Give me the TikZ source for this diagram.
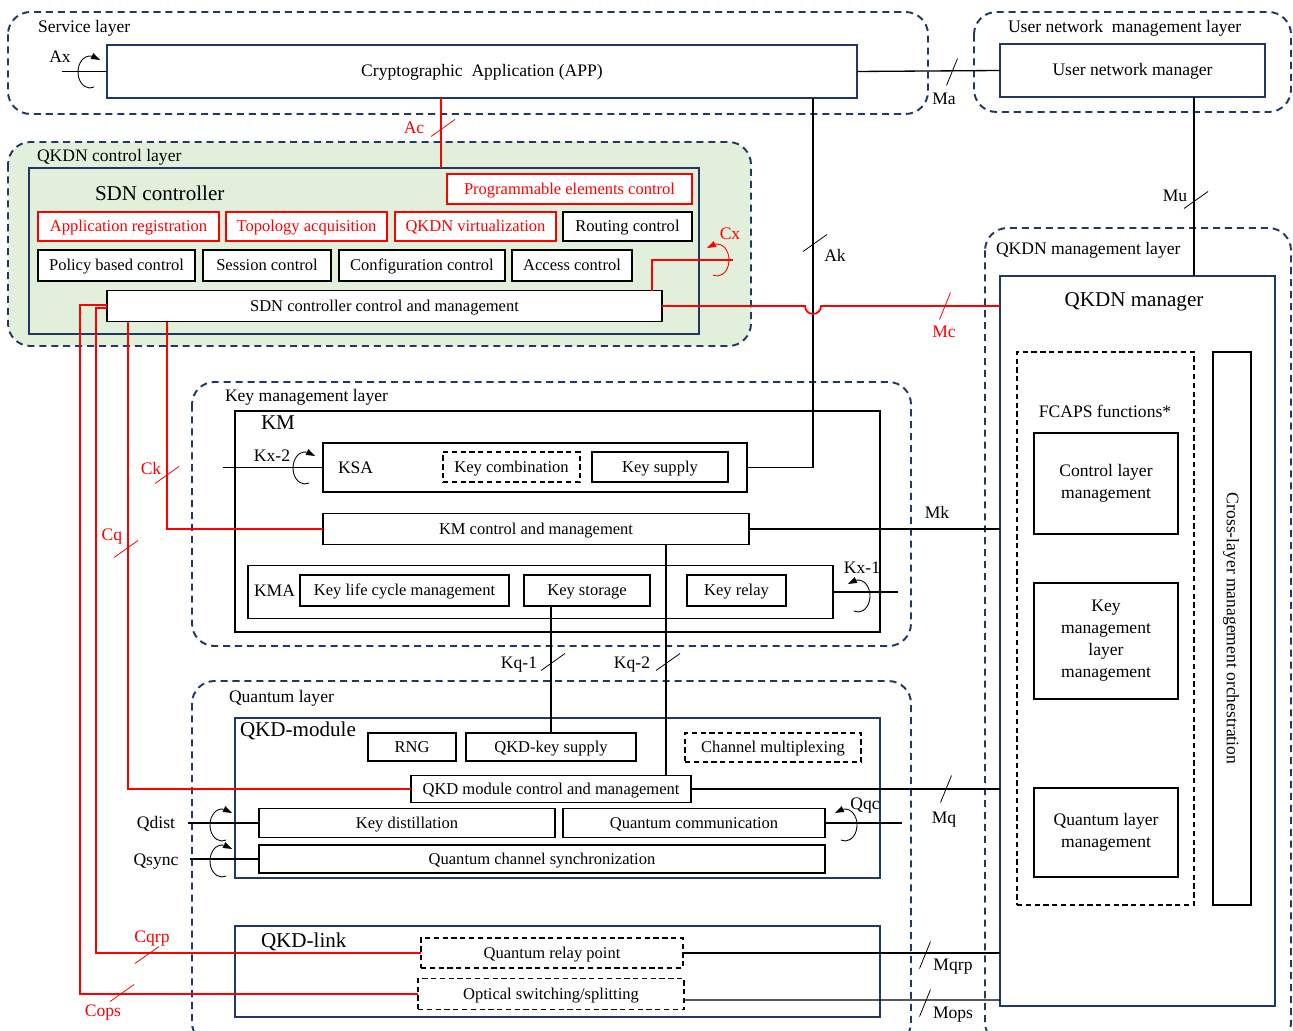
\documentclass[tikz,border=0pt]{standalone}
\usepackage{fontspec}
\setmainfont{Liberation Serif}
\usepackage{xcolor}
\usetikzlibrary{arrows, positioning, calc}
\definecolor{navy}{RGB}{32,56,100}
\definecolor{lgreen}{RGB}{226,239,218}
\definecolor{qred}{RGB}{255,0,0}
\newcommand\fsmall{\fontsize{9.4}{11}\selectfont}
\newcommand\fnorm{\fontsize{10}{12.5}\selectfont}
\newcommand\fbig{\fontsize{12}{14}\selectfont}
\newcommand\slashs[3][black]{\draw[slash,#1] (#2,#3) +(-12,8.5) -- +(12,-8.5);}
\newcommand\slasht[3][black]{\draw[slash,#1] (#2,#3) +(-5.5,13.5) -- +(5.5,-13.5);}
% loop arrows, opening to the right (L) or to the left (R)
\newcommand\loopL[3][black]{%
  \draw[lp,#1] (#2,#3) ++(70:12 and 16) arc[start angle=70, end angle=280, x radius=12, y radius=16];
  \fill[#1] (#2,#3) ++(10,-12) -- ++(-9.4,-1.1) -- ++(2.8,-5.8) -- cycle;}
\newcommand\loopR[3][black]{%
  \draw[lp,#1] (#2,#3) ++(110:12 and 16) arc[start angle=110, end angle=-100, x radius=12, y radius=16];
  \fill[#1] (#2,#3) ++(-10,-12) -- ++(9.4,-1.1) -- ++(-2.8,-5.8) -- cycle;}

\begin{document}
\begin{tikzpicture}[x=0.02cm, y=-0.02cm, every node/.style={inner sep=0pt, outer sep=0pt}]
    \tikzstyle{tx}=[text height=0.8em, text depth=0.2em]
    \tikzstyle{layer}=[draw=navy, line width=1.1pt, dash pattern=on 4pt off 2.8pt, rounded corners=0.45cm]
    \tikzstyle{nbox}=[draw=navy, line width=1.1pt, tx]
    \tikzstyle{bbox}=[draw, line width=0.8pt, fill=white, font=\fsmall, tx]
    \tikzstyle{rbox}=[bbox, draw=qred, text=qred]
    \tikzstyle{dbox}=[bbox, dash pattern=on 3pt off 2pt]
    \tikzstyle{mbox}=[draw, line width=0.8pt, fill=white, font=\fnorm, align=center]
    \tikzstyle{title}=[anchor=west, font=\fnorm, tx]
    \tikzstyle{big}=[anchor=west, font=\fbig, tx]
    \tikzstyle{lbl}=[font=\fnorm, tx]
    \tikzstyle{conn}=[line width=0.75pt]
    \tikzstyle{cconn}=[line width=1pt, draw=qred]
    \tikzstyle{slash}=[line width=0.45pt]
    \tikzstyle{lp}=[line width=0.5pt]
    \tikzset{sz/.style 2 args={minimum width=#1*0.02cm, minimum height=#2*0.02cm}}

    \useasboundingbox (0,0) rectangle (1293,1030);

    % layers
    \draw[layer] (8,12) rectangle (928,114);
    \draw[layer] (974,12) rectangle (1291,112);
    \draw[layer, fill=lgreen] (8,142) rectangle (751,346);
    \draw[layer] (985,228) rectangle (1291,1045);
    \draw[layer] (192,382) rectangle (911,646);
    \draw[layer] (192,681) rectangle (911,1045);

    \node[title] (tSL) at (38,27) {Service layer};
    \node[title] (tUL) at (1008,27) {User network\ \ management layer};
    \node[title] (tCL) at (37,156) {QKDN control layer};
    \node[title] (tML) at (996,249) {QKDN management layer};
    \node[title] (tKL) at (225,396) {Key management layer};
    \node[title] (tQL) at (229,697) {Quantum layer};

    % service / user network
    \node[nbox, sz={750}{53}, font=\fnorm] (APP) at (482,71.5) {Cryptographic\ \ Application (APP)};
    \node[nbox, sz={265}{53}, font=\fnorm] (UNM) at (1132.5,70.5) {User network manager};

    % SDN controller
    \node[nbox, sz={670}{166}] (SDN) at (364,251) {};
    \node[big] (tSDN) at (95,195) {SDN controller};
    \node[rbox, sz={245}{30}] (PEC) at (569.5,189) {Programmable elements control};
    \node[rbox, sz={181}{29}] (AppReg) at (128.5,226.5) {Application registration};
    \node[rbox, sz={161}{29}] (TopAcq) at (306.5,226.5) {Topology acquisition};
    \node[rbox, sz={161}{29}] (Virt) at (475.5,226.5) {QKDN virtualization};
    \node[bbox, sz={129}{29}] (Route) at (627.5,226.5) {Routing control};
    \node[bbox, sz={157}{31}] (Policy) at (116.5,265.5) {Policy based control};
    \node[bbox, sz={128}{31}] (Session) at (267,265.5) {Session control};
    \node[bbox, sz={166}{31}] (Config) at (422,265.5) {Configuration control};
    \node[bbox, sz={120}{31}] (Access) at (572,265.5) {Access control};
    \node[bbox, sz={555}{31}] (SDNcm) at (384.5,306) {SDN controller control and management};

    % QKDN manager
    \node[nbox, sz={275}{730}] (QMGR) at (1137.5,641) {};
    \node[font=\fbig, tx] (tQMGR) at (1134,301) {QKDN manager};
    \node[draw, line width=0.8pt, dash pattern=on 3pt off 2pt, sz={177}{553}] (FCAPS) at (1105.5,628.5) {};
    \node[lbl] (tFCAPS) at (1105,412) {FCAPS functions*};
    \node[mbox, sz={144}{101}] (CLM) at (1106,483.5) {Control layer\\management};
    \node[mbox, sz={144}{116}] (KMLM) at (1106,641) {Key\\management\\layer\\management};
    \node[mbox, sz={144}{89}] (QLM) at (1106,832.5) {Quantum layer\\management};
    \node[bbox, sz={38}{553}] (Cross) at (1232,628.5) {};
    \node[lbl, rotate=-90] (tCross) at (Cross) {Cross-layer management orchestration};

    % key management
    \node[draw, line width=0.8pt, sz={645}{221}] (KM) at (557.5,521.5) {};
    \node[big] (tKM) at (261,424) {KM};
    \node[bbox, sz={424}{49}] (KSA) at (535,467.5) {};
    \node[title] (tKSA) at (338,468) {KSA};
    \node[dbox, sz={137}{30}] (KeyComb) at (511.5,467) {Key combination};
    \node[bbox, sz={136}{30}] (KeySup) at (660,467) {Key supply};
    \node[bbox, sz={426}{31}] (KMcm) at (536,529) {KM control and management};
    \node[draw, line width=0.8pt, sz={585}{53}] (KMA) at (540.5,592) {};
    \node[title] (tKMA) at (254,591) {KMA};
    \node[bbox, sz={209}{31}] (KLCM) at (404.5,590.5) {Key life cycle management};
    \node[bbox, sz={126}{31}] (KeySto) at (587,590.5) {Key storage};
    \node[bbox, sz={99}{31}] (KeyRel) at (736.5,590.5) {Key relay};

    % quantum layer
    \node[nbox, sz={645}{160}] (QMOD) at (557.5,798) {};
    \node[big] (tQMOD) at (240,731) {QKD-module};
    \node[bbox, sz={88}{28}] (RNG) at (412,747) {RNG};
    \node[bbox, sz={170}{28}] (QKS) at (551,747) {QKD-key supply};
    \node[dbox, sz={176}{29}] (ChMux) at (773,747.5) {Channel multiplexing};
    \node[bbox, sz={280}{27}] (QMcm) at (551,789) {QKD module control and management};
    \node[bbox, sz={296}{29}] (KeyDist) at (407,823) {Key distillation};
    \node[bbox, sz={262}{29}] (QComm) at (694,823) {Quantum communication};
    \node[bbox, sz={566}{28}] (QSync) at (542,859) {Quantum channel synchronization};
    \node[nbox, sz={645}{91}] (QLINK) at (557.5,971.5) {};
    \node[big] (tQLINK) at (261,942) {QKD-link};
    \node[dbox, sz={262}{30}] (QRP) at (552,953) {Quantum relay point};
    \node[dbox, sz={266}{31}] (OSS) at (551,994) {Optical switching/splitting};

    % free ends
    \coordinate (axend) at (62,71.5);
    \coordinate (cxend) at (733,260);
    \coordinate (kx2end) at (223,467.5);
    \coordinate (kx1end) at (898,592);
    \coordinate (qdend) at (188,823);
    \coordinate (qsend) at (190,859);
    \coordinate (qqend) at (902,823);

    % reference points
    \draw[conn] (axend) -- (APP.west);
    \draw[conn] (APP.east) -- (UNM.west);
    \draw[conn] (APP.south -| 813,0) |- (KSA.east);
    \draw[conn] (UNM.south -| 1194,0) -- (QMGR.north -| 1194,0);
    \draw[conn] (kx2end) -- (KSA.west);
    \draw[conn] (KMA.east) -- (kx1end);
    \draw[conn] (KMcm.east) -- (QMGR.west |- KMcm.east);
    \draw[conn] (QKS.north |- KeySto.south) -- (QKS.north);
    \draw[conn] (KMcm.south -| 666,0) -- (QMcm.north -| 666,0);
    \draw[conn] (QMcm.east) -- (QMGR.west |- QMcm.east);
    \draw[conn] (qdend) -- (KeyDist.west);
    \draw[conn] (qsend) -- (QSync.west);
    \draw[conn] (QComm.east) -- (qqend);
    \draw[conn] (QRP.east) -- (QMGR.west |- QRP.east);
    \draw[conn] ([yshift=-0.12cm]OSS.east) -- (QMGR.west |- 0,1000);

    \draw[cconn] (APP.south -| 441,0) -- (SDN.north -| 441,0);
    \draw[cconn] (SDNcm.east) -- (805,306) arc[start angle=180, end angle=360, radius=0.16cm] -- (QMGR.west |- SDNcm.east);
    \draw[cconn] (SDNcm.north -| 652,0) |- (cxend);
    \draw[cconn] (SDNcm.south -| 167,0) |- (KMcm.west);
    \draw[cconn] (SDNcm.south -| 128,0) |- (QMcm.west);
    \draw[cconn] ([yshift=-0.04cm]SDNcm.west) -- ++(-11,0) |- (QRP.west);
    \draw[cconn] ([yshift=0.02cm]SDNcm.west) -- ++(-27,0) |- (OSS.west);

    % loops
    \loopL{90}{72}
    \loopL{305}{468}
    \loopR{858}{596}
    \loopR[qred]{717}{260}
    \loopL{222}{825}
    \loopL{222}{861}
    \loopR{845}{825}

    % ticks
    \slasht{952}{72}
    \slashs[qred]{443}{128}
    \slashs{1196}{200}
    \slashs{815}{243}
    \slasht[qred]{945}{306}
    \slashs[qred]{167}{475}
    \slashs[qred]{126}{549}
    \slashs{553}{662}
    \slashs{668}{662}
    \slasht{946}{789}
    \slashs[qred]{147}{955}
    \slashs[qred]{122}{993}
    \slasht{925}{955}
    \slasht{925}{1003}

    % labels
    \node[lbl] (lAx) at (60,57) {Ax};
    \node[lbl] (lMa) at (944,99) {Ma};
    \node[lbl, text=qred] (lAc) at (414,128) {Ac};
    \node[lbl] (lMu) at (1175,196) {Mu};
    \node[lbl, text=qred] (lCx) at (730,234) {Cx};
    \node[lbl] (lAk) at (835,256) {Ak};
    \node[lbl, text=qred] (lMc) at (944,332) {Mc};
    \node[lbl] (lKx2) at (272,456) {Kx-2};
    \node[lbl, text=qred] (lCk) at (151,469) {Ck};
    \node[lbl] (lMk) at (937,513) {Mk};
    \node[lbl, text=qred] (lCq) at (112,535) {Cq};
    \node[lbl] (lKx1) at (862,568) {Kx-1};
    \node[lbl] (lKq1) at (519,663) {Kq-1};
    \node[lbl] (lKq2) at (632,663) {Kq-2};
    \node[lbl] (lMq) at (944,818) {Mq};
    \node[lbl] (lQd) at (156,823) {Qdist};
    \node[lbl] (lQs) at (156,860) {Qsync};
    \node[lbl] (lQqc) at (865,804) {Qqc};
    \node[lbl, text=qred] (lCqrp) at (152,937) {Cqrp};
    \node[lbl, text=qred] (lCops) at (103,1011) {Cops};
    \node[lbl] (lMqrp) at (953,965) {Mqrp};
    \node[lbl] (lMops) at (953,1013) {Mops};
\end{tikzpicture}
\end{document}
